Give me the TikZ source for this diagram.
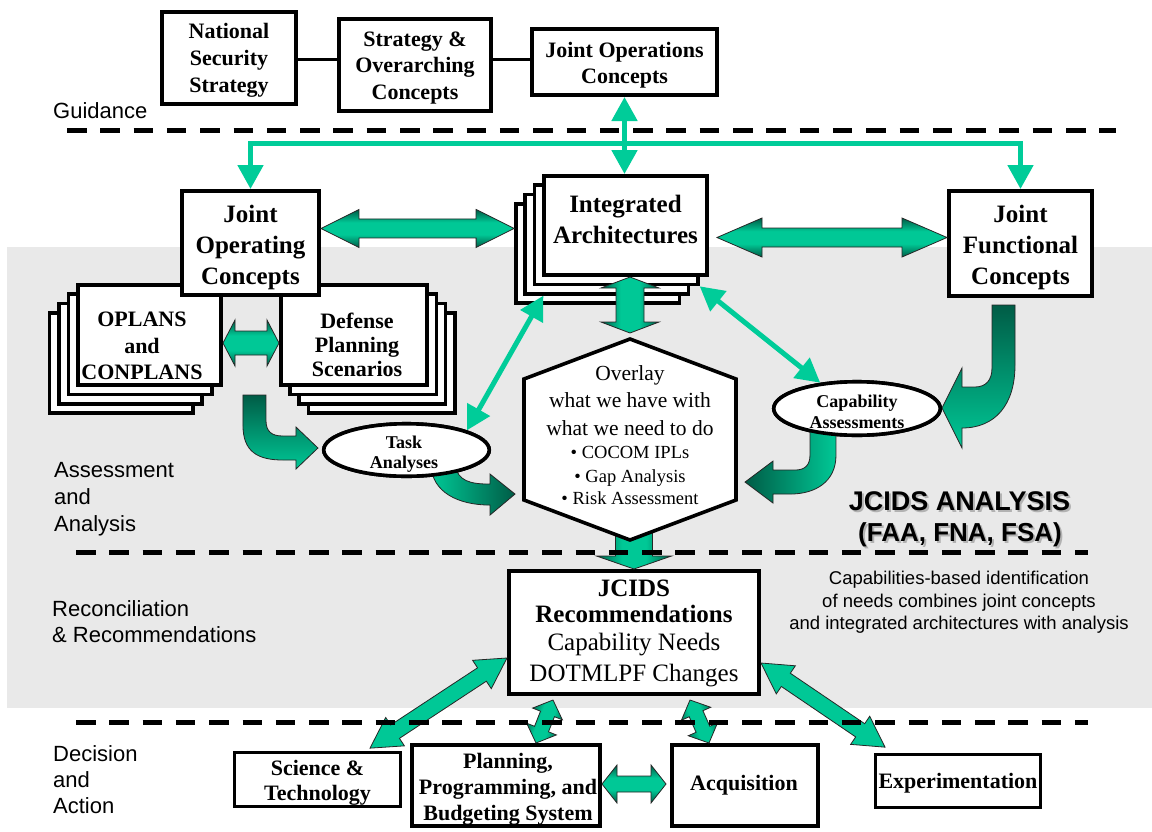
\documentclass[tikz,border=0pt]{standalone}
\usepackage{fontspec}
\setmainfont{Liberation Serif}
\setsansfont{Liberation Sans}
\usetikzlibrary{arrows.meta,shapes.geometric}

\definecolor{gbright}{RGB}{0,200,150}
\definecolor{gline}{RGB}{0,204,153}
\definecolor{gdark}{RGB}{0,92,70}
\definecolor{bggray}{RGB}{233,233,233}

% dark edges, bright core: used across the width of the fat arrows
\pgfdeclareverticalshading{fatgreen}{100bp}{color(0bp)=(gdark); color(25bp)=(gdark); color(42bp)=(gbright); color(58bp)=(gbright); color(75bp)=(gdark); color(100bp)=(gdark)}

\tikzset{
  box/.style={draw=black, line width=3.6pt, fill=white, inner sep=0pt, line join=miter},
  oval/.style={ellipse, draw=black, line width=3.6pt, fill=white, inner sep=0pt},
  btext/.style={inner sep=0pt, align=center, font=\bfseries\fontsize{22}{26}\selectfont},
  bigtext/.style={inner sep=0pt, align=center, font=\bfseries\fontsize{25}{31}\selectfont},
  lane/.style={inner sep=0pt, align=left, anchor=west, font=\sffamily\fontsize{22}{27}\selectfont},
  sep/.style={line width=5pt, dash pattern=on 19.5pt off 13.8pt},
  gthin/.style={draw=gline, line width=5pt},
  garrow/.style={-{Triangle[width=25pt,length=24pt]}},
  gdbl/.style={{Triangle[width=25pt,length=24pt]}-{Triangle[width=25pt,length=24pt]}},
  fat/.style={draw=black!85, line width=0.8pt, shading=fatgreen, line join=miter},
  curvefat/.style={draw=black!85, line width=0.8pt, line join=miter},
  link/.style={draw=black, line width=3pt},
}

% fat double-headed arrow: from, to, shaft half width, head half width, head length
\newcommand{\fatdbl}[5]{%
  \coordinate (fatA) at (#1);
  \coordinate (fatB) at (#2);
  \pgfpointdiff{\pgfpointanchor{fatA}{center}}{\pgfpointanchor{fatB}{center}}%
  \pgfgetlastxy{\fatdx}{\fatdy}%
  \pgfmathsetmacro{\fatlen}{veclen(\fatdx,\fatdy)}%
  \pgfmathsetmacro{\fatang}{atan2(\fatdy,\fatdx)}%
  \begin{scope}[shift={(fatA)},rotate=\fatang]
    \shadedraw[fat,shading angle=\fatang] (0,0) -- (#5,#4) -- (#5,#3) -- (\fatlen-#5,#3)
      -- (\fatlen-#5,#4) -- (\fatlen,0) -- (\fatlen-#5,-#4) -- (\fatlen-#5,-#3)
      -- (#5,-#3) -- (#5,-#4) -- cycle;
  \end{scope}}

% fat single-headed arrow: from, to, shaft half width, head half width, head length
\newcommand{\fatone}[5]{%
  \coordinate (fatA) at (#1);
  \coordinate (fatB) at (#2);
  \pgfpointdiff{\pgfpointanchor{fatA}{center}}{\pgfpointanchor{fatB}{center}}%
  \pgfgetlastxy{\fatdx}{\fatdy}%
  \pgfmathsetmacro{\fatlen}{veclen(\fatdx,\fatdy)}%
  \pgfmathsetmacro{\fatang}{atan2(\fatdy,\fatdx)}%
  \begin{scope}[shift={(fatA)},rotate=\fatang]
    \shadedraw[fat,shading angle=\fatang] (0,#3) -- (\fatlen-#5,#3) -- (\fatlen-#5,#4)
      -- (\fatlen,0) -- (\fatlen-#5,-#4) -- (\fatlen-#5,-#3) -- (0,-#3) -- cycle;
  \end{scope}}

\begin{document}
\begin{tikzpicture}[x=1pt,y=-1pt]
\useasboundingbox (0,0) rectangle (1152,831);

% shaded band for the analysis and reconciliation stages
\fill[bggray] (7,247) rectangle (1152,708);
\draw[sep] (67,130) -- (1116,130);

% stage labels
\node[lane, anchor=base west] (lguid) at (53,118) {Guidance};
\node[lane] (lassess) at (54,499.4) {Assessment\\and\\Analysis};
\node[lane, font=\sffamily\fontsize{22}{26}\selectfont] (lrecon) at (52,622) {Reconciliation\\\& Recommendations};
\node[lane, font=\sffamily\fontsize{22}{26}\selectfont] (ldec) at (53,780) {Decision\\and\\Action};

% guidance documents
\node[box, minimum width=134.4pt, minimum height=92.4pt] (nss) at (229,58) {};
\node[btext, font=\bfseries\fontsize{22}{26.8}\selectfont] (nss-t) at (229,60.4) {National\\Security\\Strategy};
\node[box, minimum width=152.4pt, minimum height=92.4pt] (soc) at (415,65) {};
\node[btext, font=\bfseries\fontsize{22}{26.3}\selectfont] (soc-t) at (415,68) {Strategy \&\\Overarching\\Concepts};
\node[box, minimum width=185.4pt, minimum height=66.4pt] (joc) at (624.5,62) {};
\node[btext] (joc-t) at (624.5,65) {Joint Operations\\Concepts};
\coordinate (lk) at ([yshift=-1pt]nss.east);
\draw[link] (lk) -- (lk -| soc.west);
\draw[link] (lk -| soc.east) -- (lk -| joc.west);

% integrated architectures stack
\node[box, minimum width=163.4pt, minimum height=99.4pt] (ia4) at (597.6,253.4) {};
\node[box, minimum width=163.4pt, minimum height=99.4pt] (ia3) at (606.9,244.1) {};
\node[box, minimum width=163.4pt, minimum height=99.4pt] (ia2) at (616.2,234.8) {};
\node[box, minimum width=163.4pt, minimum height=99.4pt] (ia1) at (625.5,225.5) {};
\node[bigtext] (ia-t) at (625.5,219) {Integrated\\Architectures};

% OPLANS stack
\node[box, minimum width=143.4pt, minimum height=100.4pt] (op4) at (121,362.9) {};
\node[box, minimum width=143.4pt, minimum height=100.4pt] (op3) at (130.5,353.6) {};
\node[box, minimum width=143.4pt, minimum height=100.4pt] (op2) at (140,344.3) {};
\node[box, minimum width=143.4pt, minimum height=100.4pt] (op1) at (149.5,335) {};
\node[btext, font=\bfseries\fontsize{22}{26.7}\selectfont] (op-t) at (142,346) {OPLANS\\and\\CONPLANS};

% defense planning scenarios stack
\node[box, minimum width=146.4pt, minimum height=100.4pt] (dp4) at (381.6,362.9) {};
\node[box, minimum width=146.4pt, minimum height=100.4pt] (dp3) at (372.4,353.6) {};
\node[box, minimum width=146.4pt, minimum height=100.4pt] (dp2) at (363.2,344.3) {};
\node[box, minimum width=146.4pt, minimum height=100.4pt] (dp1) at (354,335) {};
\node[btext, font=\bfseries\fontsize{22}{24.2}\selectfont] (dp-t) at (357,345) {Defense\\Planning\\Scenarios};

% joint concepts
\node[box, minimum width=137.4pt, minimum height=104.4pt] (jopc) at (250.5,243) {};
\node[bigtext] (jopc-t) at (250.5,247.2) {Joint\\Operating\\Concepts};
\node[box, minimum width=143.4pt, minimum height=105.4pt] (jfc) at (1020.5,243.5) {};
\node[bigtext] (jfc-t) at (1020.5,247.2) {Joint\\Functional\\Concepts};

% guidance flow
\coordinate (bus) at ([yshift=-46pt]joc.south);
\draw[gthin, garrow] (bus) -| (jopc.north);
\draw[gthin, garrow] (bus) -| (jfc.north);
\draw[gthin, gdbl] (joc.south) -- (joc.south |- ia1.north);

% exchanges between concepts and architectures
\fatdbl{[yshift=14.5pt]jopc.east}{[yshift=25pt]ia4.west}{9.5}{19}{38}
\fatdbl{[shift={(8pt,-12pt)}]ia1.east}{[yshift=6pt]jfc.west}{9.5}{19.5}{45}
\fatdbl{[yshift=-8pt]op1.east}{[yshift=-8pt]dp1.west}{12}{23}{12}

% overlay hexagon corners
\coordinate (hxT) at (630,339);
\coordinate (hxB) at (630,540);
\fatdbl{[xshift=4.5pt]ia1.south}{[yshift=6pt]hxT}{14}{29}{11}

% task / capability ellipses
\node[oval, minimum width=165.5pt, minimum height=52.5pt] (task) at (406.5,450) {};
\node[oval, minimum width=166.5pt, minimum height=53.5pt] (cap) at (857,408.5) {};

% curved feeds
\begin{scope}[shift={(task.west)}]
  \shadedraw[curvefat, top color=gdark, bottom color=gbright]
    (-79,-55) -- (-79,-25) .. controls (-79,2) and (-64,10) .. (-39,10) -- (-26,10) -- (-26,19)
    -- (-4,-2) -- (-26,-23) -- (-26,-14) -- (-39,-14) .. controls (-50,-14) and (-56,-18) .. (-56,-30)
    -- (-56,-55) -- cycle;
\end{scope}
\begin{scope}[shift={(jfc.south)}]
  \shadedraw[curvefat, top color=gdark, bottom color=gbright]
    (-28.5,7) -- (-5.5,7) -- (-5.5,67) .. controls (-5.5,107) and (-25.5,130) .. (-58.5,130)
    -- (-58.5,150) -- (-78.5,110) -- (-58.5,70) -- (-58.5,89) -- (-45.5,89)
    .. controls (-34.5,89) and (-28.5,82) .. (-28.5,70) -- cycle;
\end{scope}

% recommendations box
\node[box, minimum width=250.4pt, minimum height=123.4pt] (jcids) at (634,632.5) {};

% overlay toward recommendations
\coordinate (hxB2) at (hxB -| jcids.north);
\fatone{[yshift=20pt]hxB2}{jcids.north}{18.5}{37.5}{13}

% overlay hexagon
\draw[line width=3.6pt, fill=white, line join=miter] (hxT) -- (736,379) -- (736,500) -- (hxB) -- (524,500) -- (524,379) -- cycle;
\node[inner sep=0pt, align=center, font=\fontsize{21.5}{27.5}\selectfont] (overlay) at (630,434.7)
  {Overlay\\what we have with\\what we need to do\\[-4.5pt]{\fontsize{18.5}{20}\selectfont \textbullet\ COCOM IPLs}\\[-3.5pt]{\fontsize{18.5}{20}\selectfont \textbullet\ Gap Analysis}\\[-5.5pt]{\fontsize{18.5}{20}\selectfont \textbullet\ Risk Assessment}};

% analyses feeding the overlay
\begin{scope}[shift={(task.south)}]
  \shadedraw[curvefat, left color=gbright, right color=gdark]
    (48.5,-13) .. controls (51.5,3) and (63.5,6) .. (83.5,6) -- (83.5,-4) -- (108.5,16) -- (83.5,37)
    -- (83.5,27) .. controls (51.5,27) and (25.5,14) .. (24.5,-13) -- cycle;
\end{scope}
\begin{scope}[shift={(cap.south)}]
  \shadedraw[curvefat, left color=gdark, right color=gbright]
    (-21,-7) -- (-21,18) .. controls (-21,45) and (-42,57) .. (-67,57) -- (-84,57) -- (-84,66)
    -- (-112,45) -- (-84,24) -- (-84,33) -- (-62,33) .. controls (-52,33) and (-47,28) .. (-47,18)
    -- (-47,-7) -- cycle;
\end{scope}

% redraw ellipses over the arrow tails
\node[oval, minimum width=165.5pt, minimum height=52.5pt] (task2) at (task) {};
\node[inner sep=0pt, align=center, font=\bfseries\fontsize{18}{20}\selectfont] (task-t) at (404,453.8) {Task\\Analyses};
\node[oval, minimum width=166.5pt, minimum height=53.5pt] (cap2) at (cap) {};
\node[inner sep=0pt, align=center, font=\bfseries\fontsize{18}{21}\selectfont] (cap-t) at (857,411.4) {Capability\\Assessments};

\draw[gthin, gdbl] (task.18) -- ([xshift=20pt]ia3.south west);
\draw[gthin, gdbl] (ia2.south east) -- (cap.145);

% JCIDS analysis title
\node[inner sep=0pt, anchor=base, text=black!30, font=\sffamily\bfseries\fontsize{27}{30}\selectfont] (ja-s) at (961.5,512) {JCIDS ANALYSIS};
\node[inner sep=0pt, anchor=base, font=\sffamily\bfseries\fontsize{27}{30}\selectfont] (ja) at (959.5,510) {JCIDS ANALYSIS};
\node[inner sep=0pt, anchor=base, text=black!30, font=\sffamily\bfseries\fontsize{26}{30}\selectfont] (fa-s) at (962,543) {(FAA, FNA, FSA)};
\node[inner sep=0pt, anchor=base, font=\sffamily\bfseries\fontsize{26}{30}\selectfont] (fa) at (960,541) {(FAA, FNA, FSA)};

\node[inner sep=0pt, align=center, font=\sffamily\fontsize{18.5}{22.5}\selectfont] (capnote) at (959,602.7)
  {Capabilities-based identification\\of needs combines joint concepts\\and integrated architectures with analysis};

% recommendations text
\node[inner sep=0pt, align=center, font=\fontsize{25}{26}\selectfont] (jcids-t) at (634,633)
  {{\bfseries JCIDS}\\{\bfseries Recommendations}\\[2pt]Capability Needs\\[5pt]DOTMLPF Changes};

% decision and action
\node[box, line width=3.3pt, minimum width=165.4pt, minimum height=53.4pt] (st) at (317.5,779.5) {};
\node[btext, font=\bfseries\fontsize{22}{25}\selectfont] (st-t) at (317.5,782.4) {Science \&\\Technology};
\node[box, minimum width=188.4pt, minimum height=81.4pt] (ppbs) at (506,785.5) {};
\node[btext] (ppbs-t) at (508,789) {Planning,\\Programming, and\\Budgeting System};
\node[box, minimum width=146.4pt, minimum height=81.4pt] (acq) at (745,785.5) {};
\node[btext, anchor=base] (acq-t) at (744,790) {Acquisition};
\node[box, line width=3.3pt, minimum width=164.4pt, minimum height=52.4pt] (exp) at (958,781) {};
\node[btext, anchor=base] (exp-t) at (958,788) {Experimentation};

\fatdbl{[yshift=-25.5pt]jcids.west}{[shift={(52.5pt,3pt)}]st.north}{8}{17}{30}
\fatdbl{[yshift=-30.5pt]jcids.east}{[shift={(-73pt,6pt)}]exp.north}{8}{17}{30}
\fatdbl{[shift={(-81pt,-4pt)}]jcids.south}{[xshift=30pt]ppbs.north}{7.5}{16}{15}
\fatdbl{[shift={(56pt,-4pt)}]jcids.south}{[xshift=-36pt]acq.north}{7.5}{16}{15}
\fatdbl{[yshift=1.5pt]ppbs.east}{[shift={(-4pt,1.5pt)}]acq.west}{8}{19}{15}

% stage separators
\draw[sep] (76,552) -- (1088,552);
\draw[sep] (76,722) -- (1088,722);
\end{tikzpicture}
\end{document}
